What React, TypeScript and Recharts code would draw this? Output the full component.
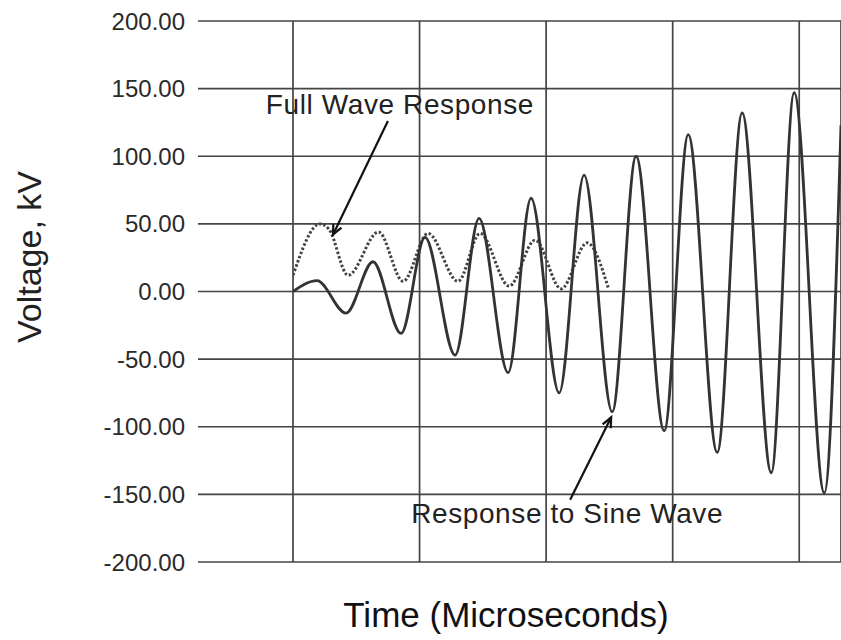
import {
  LineChart,
  Line,
  XAxis,
  YAxis,
  CartesianGrid,
  ReferenceLine,
} from 'recharts';

const timeTicks = [0, 10, 20, 30, 40];
const voltTicks = [-200, -150, -100, -50, 0, 50, 100, 150, 200];

// response to sine wave (solid) - peaks and troughs
const sineTime = [0, 1.9, 4.19, 6.32, 8.54, 10.43, 12.81, 14.7, 17.0, 18.81, 21.03, 23.0, 25.22, 27.11, 29.33, 31.23, 33.52, 35.49, 37.79, 39.6, 41.98, 43.3];
const sineVolt = [0, 8, -16, 22, -31, 40, -47, 54, -60, 69, -75, 86, -89, 100, -103, 116, -119, 132, -134, 147, -149, 123];

// full wave response (dotted)
const fullTime = [0, 2.13, 2.85, 4.35, 6.76, 8.7, 10.67, 13.04, 14.78, 17.08, 19.13, 21.19, 23.24, 24.9];
const fullVolt = [12, 50, 46, 12, 44, 7.5, 43, 7.5, 43, 4, 38, 2, 36, 3];

// annotations: arrow from label to curve
const fullArrow = { label: 'Full Wave Response', from: [7.5, 126], to: [3.16, 42] };
const sineArrow = { label: 'Response to Sine Wave', from: [21.9, -154], to: [25.14, -93] };

const sineData = sineTime.map((t, i) => ({ t, v: sineVolt[i] }));
const fullData = fullTime.map((t, i) => ({ t, v: fullVolt[i] }));

const FONT = '"Liberation Sans", Arial, sans-serif';
const GRID = '#444';

function makeArrow(label: string, dx: number, dy: number) {
  return (p: any) => {
    const { x1, y1, x2, y2 } = p;
    const ang = Math.atan2(y2 - y1, x2 - x1);
    const len = 11;
    const spread = 0.42;
    const ax = x2 - len * Math.cos(ang - spread);
    const ay = y2 - len * Math.sin(ang - spread);
    const bx = x2 - len * Math.cos(ang + spread);
    const by = y2 - len * Math.sin(ang + spread);
    return (
      <g>
        <line x1={x1} y1={y1} x2={x2} y2={y2} stroke="#111" strokeWidth={2.2} />
        <path d={`M${ax},${ay} L${x2},${y2} L${bx},${by}`} fill="none" stroke="#111" strokeWidth={2.2} />
        <text
          x={x1 + dx}
          y={y1 + dy}
          textAnchor="middle"
          fontSize={28}
          letterSpacing={0.6}
          fontFamily={FONT}
          fill="#222"
        >
          {label}
        </text>
      </g>
    );
  };
}

const XTitle = () => (
  <text x={506} y={627} textAnchor="middle" fontSize={35} fontFamily={FONT} fill="#111">
    Time (Microseconds)
  </text>
);

const YTitle = () => (
  <text
    x={0}
    y={0}
    transform="translate(41,257) rotate(-90)"
    textAnchor="middle"
    fontSize={34}
    fontFamily={FONT}
    fill="#222"
  >
    Voltage, kV
  </text>
);

export default function App() {
  return (
    <div style={{ position: 'absolute', left: 0, top: 0, width: 841, height: 640, background: '#fff', overflow: 'hidden' }}>
      <LineChart width={841} height={640} margin={{ top: 21, right: 0, bottom: 0, left: 0 }}>
        <CartesianGrid stroke={GRID} strokeWidth={1.7} />
        <XAxis
          type="number"
          dataKey="t"
          domain={[0, 43.3]}
          ticks={timeTicks}
          tickFormatter={() => ''}
          axisLine={false}
          tickLine={false}
          height={78}
          allowDataOverflow
          label={<XTitle />}
        />
        <YAxis
          type="number"
          dataKey="v"
          domain={[-200, 200]}
          ticks={voltTicks}
          width={293}
          axisLine={false}
          tickSize={95}
          tickMargin={13}
          tickLine={{ stroke: GRID, strokeWidth: 1.7 }}
          tick={{ fontSize: 24, fill: '#2a2a2a', fontFamily: FONT }}
          tickFormatter={(v: number) => v.toFixed(2)}
          label={<YTitle />}
        />
        <Line
          data={fullData}
          dataKey="v"
          type="monotone"
          stroke="#444"
          strokeWidth={3}
          strokeDasharray="2.5 2"
          dot={false}
          isAnimationActive={false}
        />
        <Line
          data={sineData}
          dataKey="v"
          type="monotone"
          stroke="#333"
          strokeWidth={2.8}
          dot={false}
          isAnimationActive={false}
        />
        <ReferenceLine
          segment={[
            { x: fullArrow.from[0], y: fullArrow.from[1] },
            { x: fullArrow.to[0], y: fullArrow.to[1] },
          ]}
          shape={makeArrow(fullArrow.label, 12, -7)}
        />
        <ReferenceLine
          segment={[
            { x: sineArrow.from[0], y: sineArrow.from[1] },
            { x: sineArrow.to[0], y: sineArrow.to[1] },
          ]}
          shape={makeArrow(sineArrow.label, -3, 23)}
        />
      </LineChart>
    </div>
  );
}
